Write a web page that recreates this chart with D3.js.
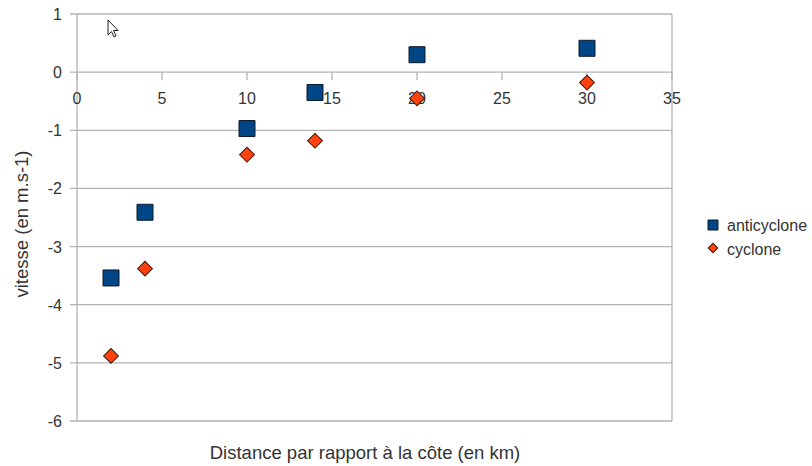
<!DOCTYPE html>
<html><head><meta charset="utf-8">
<script src="https://cdn.jsdelivr.net/npm/d3@7"></script>
<style>body{margin:0;background:#fff}text{font-family:"Liberation Sans",Arial,sans-serif;fill:#333}</style>
</head><body>
<svg id="c" width="812" height="466"></svg>
<script>
const distances = [2, 4, 10, 14, 20, 30];
const anticyclone = [-3.54, -2.41, -0.97, -0.35, 0.30, 0.41];
const cyclone = [-4.88, -3.38, -1.42, -1.18, -0.45, -0.18];
const xTicks = [0, 5, 10, 15, 20, 25, 30, 35];
const yTicks = [1, 0, -1, -2, -3, -4, -5, -6];
const seriesNames = ["anticyclone", "cyclone"];

const svg = d3.select("#c");
const x = d3.scaleLinear().domain([0, 35]).range([77, 672]);
const y = d3.scaleLinear().domain([-6, 1]).range([421, 14]);
const grid = "#b3b3b3";

svg.append("g").selectAll("line").data(yTicks).join("line")
  .attr("x1", 70).attr("x2", x(35)).attr("y1", d => y(d)).attr("y2", d => y(d))
  .attr("stroke", grid).attr("stroke-width", 1.3);
svg.append("line").attr("x1", x(0)).attr("x2", x(0)).attr("y1", y(1)).attr("y2", y(-6)).attr("stroke", grid).attr("stroke-width", 1.3);
svg.append("line").attr("x1", x(35)).attr("x2", x(35)).attr("y1", y(1)).attr("y2", y(-6)).attr("stroke", grid).attr("stroke-width", 1.3);
svg.append("g").selectAll("line").data(xTicks).join("line")
  .attr("x1", d => x(d)).attr("x2", d => x(d)).attr("y1", y(0)).attr("y2", y(0) + 8)
  .attr("stroke", grid).attr("stroke-width", 1.3);

svg.append("g").selectAll("text").data(yTicks).join("text")
  .attr("x", 62).attr("y", d => y(d) + 6).attr("text-anchor", "end")
  .attr("font-size", 16).text(d => d);
svg.append("g").selectAll("text").data(xTicks).join("text")
  .attr("x", d => x(d)).attr("y", y(0) + 32).attr("text-anchor", "middle")
  .attr("font-size", 16).text(d => d);

svg.append("text").attr("transform", "translate(28,224) rotate(-90)")
  .attr("text-anchor", "middle").attr("font-size", 18.5).text("vitesse (en m.s-1)");
svg.append("text").attr("x", 365).attr("y", 459)
  .attr("text-anchor", "middle").attr("font-size", 18.5).text("Distance par rapport à la côte (en km)");

const sq = d3.symbol().type(d3.symbolSquare).size(256);
const di = d3.symbol().type(d3.symbolSquare).size(110);

svg.append("g").selectAll("path").data(distances.map((d, i) => [d, anticyclone[i]])).join("path")
  .attr("d", sq).attr("transform", d => `translate(${x(d[0])},${y(d[1])})`)
  .attr("fill", "#004586").attr("stroke", "#0d1a2b").attr("stroke-width", 1);
svg.append("g").selectAll("path").data(distances.map((d, i) => [d, cyclone[i]])).join("path")
  .attr("d", di).attr("transform", d => `translate(${x(d[0])},${y(d[1])}) rotate(45)`)
  .attr("fill", "#ff420e").attr("stroke", "#3a1a10").attr("stroke-width", 1);

const lg = svg.append("g");
lg.append("path").attr("d", d3.symbol().type(d3.symbolSquare).size(100)).attr("transform", "translate(713,225)")
  .attr("fill", "#004586").attr("stroke", "#0d1a2b");
lg.append("path").attr("d", d3.symbol().type(d3.symbolSquare).size(45)).attr("transform", "translate(713,248) rotate(45)")
  .attr("fill", "#ff420e").attr("stroke", "#3a1a10");
lg.selectAll("text").data(seriesNames).join("text")
  .attr("x", 727).attr("y", (d, i) => 231 + i * 24).attr("font-size", 16).text(d => d);

svg.append("path").attr("d", "M108,20 L108,35 L111.5,31.5 L114,37 L116,36 L113.5,30.5 L118,30.5 Z")
  .attr("fill", "#fff").attr("stroke", "#222").attr("stroke-width", 1);
</script>
</body></html>
